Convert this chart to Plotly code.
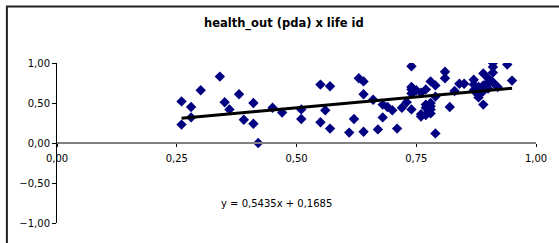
import plotly.graph_objects as go

# life id (x) and health_out (pda) (y) values
life_id = [0.26, 0.26, 0.28, 0.28, 0.30, 0.34, 0.35, 0.36, 0.38, 0.39,
           0.41, 0.41, 0.42, 0.45, 0.47, 0.51, 0.51, 0.55, 0.55, 0.56,
           0.57, 0.57, 0.61, 0.62, 0.63, 0.64, 0.64, 0.64, 0.66, 0.67,
           0.68, 0.68, 0.69, 0.70, 0.71, 0.72, 0.73, 0.74, 0.74, 0.74,
           0.74, 0.74, 0.75, 0.76, 0.76, 0.77, 0.77, 0.77, 0.78, 0.78,
           0.78, 0.78, 0.79, 0.79, 0.79, 0.81, 0.81, 0.82, 0.83, 0.84,
           0.85, 0.87, 0.87, 0.88, 0.88, 0.88, 0.89, 0.89, 0.89, 0.90,
           0.90, 0.91, 0.91, 0.91, 0.91, 0.92, 0.94, 0.95, 0.87, 0.89,
           0.90, 0.76, 0.77, 0.78, 0.745, 0.88, 0.90]
health_out = [0.52, 0.23, 0.45, 0.32, 0.66, 0.83, 0.51, 0.42, 0.61, 0.29,
              0.50, 0.24, 0.00, 0.44, 0.38, 0.42, 0.30, 0.73, 0.26, 0.41,
              0.71, 0.18, 0.13, 0.30, 0.81, 0.77, 0.61, 0.14, 0.54, 0.17,
              0.48, 0.32, 0.45, 0.41, 0.18, 0.44, 0.51, 0.96, 0.70, 0.67,
              0.62, 0.42, 0.66, 0.33, 0.63, 0.67, 0.35, 0.48, 0.77, 0.50,
              0.42, 0.37, 0.72, 0.58, 0.12, 0.89, 0.81, 0.45, 0.65, 0.74,
              0.74, 0.79, 0.73, 0.70, 0.60, 0.57, 0.87, 0.48, 0.65, 0.81,
              0.76, 1.00, 0.95, 0.88, 0.76, 0.70, 0.98, 0.78, 0.66, 0.72,
              0.68, 0.36, 0.44, 0.46, 0.64, 0.63, 0.74]

slope = 0.5435
intercept = 0.1685

x_ticks = [0, 0.25, 0.5, 0.75, 1.0]
y_ticks = [-1.0, -0.5, 0.0, 0.5, 1.0]

trend_x = [min(life_id), max(life_id)]
trend_y = [slope * v + intercept for v in trend_x]

fig = go.Figure()
fig.add_trace(go.Scatter(
    x=life_id, y=health_out, mode="markers",
    marker=dict(symbol="diamond", size=8, color="#000080", line=dict(width=0)),
    showlegend=False, hoverinfo="skip"))
fig.add_trace(go.Scatter(
    x=trend_x, y=trend_y, mode="lines",
    line=dict(color="#000000", width=3),
    showlegend=False, hoverinfo="skip"))

font_family = "DejaVu Sans, Liberation Sans, Arial, sans-serif"

fig.update_layout(
    width=559, height=243,
    margin=dict(l=57, r=19, t=63, b=20),
    paper_bgcolor="white", plot_bgcolor="white",
    separators=",.",
    font=dict(family=font_family, size=10, color="#000000"),
    xaxis=dict(
        range=[0, 1], tickvals=x_ticks, tickformat=".2f",
        showgrid=False, zeroline=False,
        showline=True, linecolor="#808080", linewidth=2,
        ticks="outside", ticklen=3, tickcolor="#000000", tickwidth=1,
        anchor="free", position=0.5,
        ticklabelstandoff=3,
        tickfont=dict(family=font_family, size=10, color="#000000"),
    ),
    yaxis=dict(
        range=[-1, 1], tickvals=y_ticks, tickformat=".2f",
        showgrid=False, zeroline=False,
        showline=True, linecolor="#000000", linewidth=1,
        ticks="outside", ticklen=4, tickcolor="#000000", tickwidth=1,
        tickfont=dict(family=font_family, size=10, color="#000000"),
    ),
    annotations=[
        dict(text="<b>health_out (pda) x life id</b>", xref="paper", yref="paper",
             x=0.474, y=1.245, xanchor="center", yanchor="middle", showarrow=False,
             font=dict(family=font_family, size=11.5, color="#000000")),
        dict(text="y = 0,5435x + 0,1685", xref="paper", yref="paper",
             x=0.4576, y=0.119, xanchor="center", yanchor="middle", showarrow=False,
             font=dict(family=font_family, size=10, color="#000000")),
    ],
    shapes=[
        dict(type="rect", xref="paper", yref="paper",
             x0=-0.1046, y0=-0.3, x1=1.2, y1=1.353,
             line=dict(color="#222222", width=2), fillcolor="rgba(0,0,0,0)",
             layer="below"),
    ],
)

fig.write_html("out.html",
               config={"displayModeBar": False, "staticPlot": True},
               post_script="document.body.style.margin='0px';document.body.style.overflow='hidden';")
